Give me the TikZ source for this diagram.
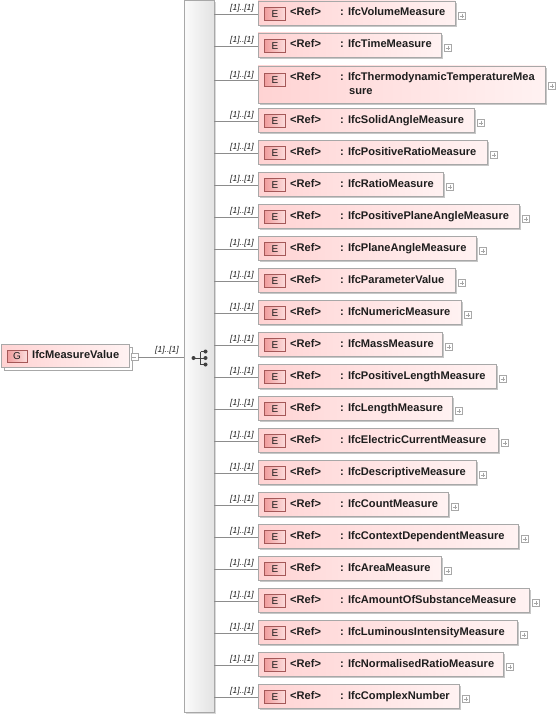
\documentclass[tikz,border=0pt]{standalone}
\usepackage{fontspec}
\setmainfont{Liberation Sans}
\usetikzlibrary{shadows}
\definecolor{boxline}{HTML}{A8A8A8}
\definecolor{pinkL}{HTML}{FFD3D3}
\definecolor{pinkR}{HTML}{FFF2F2}
\definecolor{eL}{HTML}{F09E9E}
\definecolor{eR}{HTML}{FCDCDC}
\definecolor{eline}{HTML}{A45858}
\definecolor{txt}{HTML}{1E1E1E}
\definecolor{conn}{HTML}{8C8C8C}
\tikzset{
  elbox/.style={rectangle, draw=boxline, line width=0.8pt, left color=pinkL, right color=pinkR,
    drop shadow={shadow xshift=2pt, shadow yshift=-2pt, fill=black!22, opacity=1}, inner sep=0pt},
  badge/.style={rectangle, draw=eline, line width=0.7pt, left color=eL, right color=eR,
    minimum width=21pt, minimum height=12.5pt, inner sep=0pt, text=txt,
    font=\fontsize{10}{12}\selectfont},
  lbl/.style={inner sep=0pt, text=txt, font=\fontsize{11.1}{13}\selectfont\bfseries,
    text height=8pt, text depth=2pt},
  mult/.style={inner sep=0pt, text=txt, font=\fontsize{8.5}{10}\selectfont\itshape},
  conn/.style={draw=conn, line width=0.7pt},
  tog/.style={rectangle, draw=boxline, fill=white, line width=0.6pt, minimum size=7pt, inner sep=0pt},
  togline/.style={draw=gray!70, line width=0.6pt},
  icon/.style={draw=black!75, line width=0.8pt},
  chbar/.style={rectangle, draw=boxline, line width=0.8pt, left color=gray!3, right color=gray!22,
    drop shadow={shadow xshift=2pt, shadow yshift=-2pt, fill=black!15, opacity=1}, inner sep=0pt}
}
\begin{document}
\begin{tikzpicture}[x=1pt,y=-1pt]
\useasboundingbox[fill=white] (0,0) rectangle (556,717);

% choice bar
\node[chbar, minimum width=30pt, minimum height=712pt] (ch) at (199,356) {};
% choice icon
\coordinate (cd) at (193.5,358);
\fill[black!75] (cd) circle (2pt);
\draw[icon] (cd) -- (200.5,358) (200.5,351.5) -- (200.5,364.5);
\foreach \yy in {351.5,358,364.5}{
  \draw[icon] (200.5,\yy) -- (205.5,\yy);
  \fill[black!75] (205.5,\yy) circle (2pt);
}

% group element
\node[rectangle, draw=boxline, fill=white, line width=0.8pt, minimum width=128pt, minimum height=23pt, inner sep=0pt] (gback) at (68,358.5) {};
\node[rectangle, draw=boxline, line width=0.8pt, left color=pinkL, right color=pinkR, minimum width=128pt, minimum height=23pt, inner sep=0pt] (g) at (65,355.5) {};
\node[badge, minimum width=20pt, minimum height=12pt] (gb) at (17,356) {G};
\node[lbl, anchor=west] (gt) at (32,355) {IfcMeasureValue};
\node[tog] (gm) at (134.5,357) {};
\draw[togline] (gm.west) ++(1.5pt,0) -- ++(4pt,0);
\draw[conn] (gm.east) -- (ch.west |- gm.east);
\node[mult] (gml) at (167,350) {[1]..[1]};

% element rows
\foreach \i/\c/\r/\n in {1/14/455/IfcVolumeMeasure, 2/46/441/IfcTimeMeasure,
  4/121/474/IfcSolidAngleMeasure, 5/153/487/IfcPositiveRatioMeasure,
  6/185/443/IfcRatioMeasure, 7/217/519/IfcPositivePlaneAngleMeasure,
  8/249/476/IfcPlaneAngleMeasure, 9/281/455/IfcParameterValue,
  10/313/461/IfcNumericMeasure, 11/345/442/IfcMassMeasure,
  12/377/496/IfcPositiveLengthMeasure, 13/409/452/IfcLengthMeasure,
  14/441/498/IfcElectricCurrentMeasure, 15/473/476/IfcDescriptiveMeasure,
  16/505/448/IfcCountMeasure, 17/537/518/IfcContextDependentMeasure,
  18/569/441/IfcAreaMeasure, 19/601/529/IfcAmountOfSubstanceMeasure,
  20/633/517/IfcLuminousIntensityMeasure, 21/665/503/IfcNormalisedRatioMeasure,
  22/697/459/IfcComplexNumber}{
  \pgfmathsetmacro\w{\r-258}
  \pgfmathsetmacro\mx{(\r+258)/2}
  \node[elbox, minimum width=\w pt, minimum height=24pt] (b\i) at (\mx,\c-1) {};
  \node[badge] (e\i) at (275,\c) {E};
  \node[lbl, anchor=west] (r\i) at (290,\c-1) {<Ref>};
  \node[lbl, anchor=west] (n\i) at (340,\c-1) {: \n};
  \node[tog] (p\i) at (\r+7,\c+2) {};
  \draw[togline] (p\i.west) ++(1.5pt,0) -- ++(4pt,0);
  \draw[togline] (p\i.north) ++(0,-1.5pt) -- ++(0,-4pt);
  \draw[conn] (ch.east |- e\i.center) -- (b\i.west |- e\i.center);
  \node[mult] (m\i) at (242,\c-6) {[1]..[1]};
}

% tall row 3
\node[elbox, minimum width=287pt, minimum height=37pt] (b3) at (401.5,84.5) {};
\node[badge] (e3) at (275,80) {E};
\node[lbl, anchor=west] (r3) at (290,78) {<Ref>};
\node[lbl, anchor=west] (n3) at (340,78) {: IfcThermodynamicTemperatureMea};
\node[lbl, anchor=west] (n3b) at (349,91) {sure};
\node[tog] (p3) at (552,86) {};
\draw[togline] (p3.west) ++(1.5pt,0) -- ++(4pt,0);
\draw[togline] (p3.north) ++(0,-1.5pt) -- ++(0,-4pt);
\draw[conn] (ch.east |- e3.center) -- (b3.west |- e3.center);
\node[mult] (m3) at (242,75) {[1]..[1]};
\end{tikzpicture}
\end{document}
